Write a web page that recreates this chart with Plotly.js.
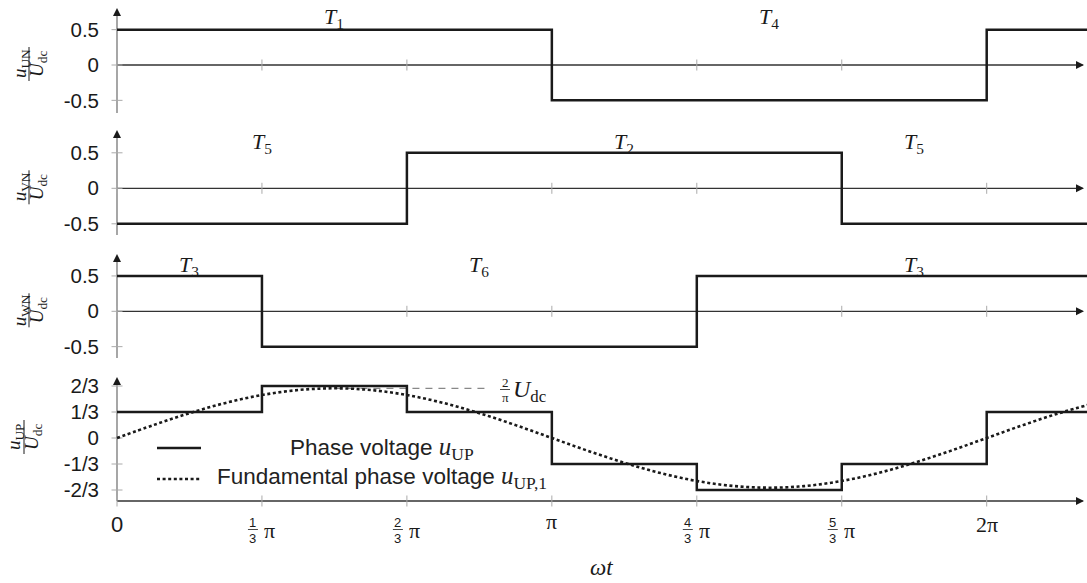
<!DOCTYPE html>
<html><head><meta charset="utf-8">
<script src="https://cdn.plot.ly/plotly-3.0.1.min.js"></script>
<style>html,body{margin:0;padding:0;background:#fff}</style>
</head><body><div id="chart" style="width:1087px;height:583px"></div>
<script>
// ---------------- DATA (x in units of π) ----------------
const xUN = [0, 1, 2, 2.3];
const yUN = [0.5, -0.5, 0.5, 0.5];
const xVN = [0, 2/3, 5/3, 2.3];
const yVN = [-0.5, 0.5, -0.5, -0.5];
const xWN = [0, 1/3, 4/3, 2.3];
const yWN = [0.5, -0.5, 0.5, 0.5];
const xUP = [0, 1/3, 2/3, 1, 4/3, 5/3, 2, 2.3];
const yUP = [1/3, 2/3, 1/3, -1/3, -2/3, -1/3, 1/3, 1/3];
const xFund = [0, 1/12, 2/12, 3/12, 4/12, 5/12, 6/12, 7/12, 8/12, 9/12, 10/12, 11/12, 1,
               13/12, 14/12, 15/12, 16/12, 17/12, 18/12, 19/12, 20/12, 21/12, 22/12, 23/12, 2,
               25/12, 26/12, 27/12];
const yFund = [0, 0.165, 0.318, 0.450, 0.551, 0.615, 0.637, 0.615, 0.551, 0.450, 0.318, 0.165, 0,
               -0.165, -0.318, -0.450, -0.551, -0.615, -0.637, -0.615, -0.551, -0.450, -0.318, -0.165, 0,
               0.165, 0.318, 0.450];
const peakFund = 0.637;
const peakLineX = [0.5, 0.85];

const xTickVals = [0, 1/3, 2/3, 1, 4/3, 5/3, 2];
const xTickNum  = [null, '1', '2', null, '4', '5', null];
const xTickDen  = [null, '3', '3', null, '3', '3', null];
const xTickMain = ['0', 'π', 'π', 'π', 'π', 'π', '2π'];

const yTickValsHalf = [-0.5, 0, 0.5];
const yTickTextHalf = ['-0.5', '0', '0.5'];
const yTickValsThird = [-2/3, -1/3, 0, 1/3, 2/3];
const yTickTextThird = ['-2/3', '-1/3', '0', '1/3', '2/3'];

const yTitleSub = ['UN', 'VN', 'WN', 'UP'];

const tPanel = [0, 0, 1, 1, 1, 2, 2, 2];
const tX     = [1/2, 3/2, 1/3, 7/6, 11/6, 1/6, 5/6, 11/6];
const tSub   = ['1', '4', '5', '2', '5', '3', '6', '3'];

const legendText = ['Phase voltage ', 'Fundamental phase voltage '];
const legendSub = ['UP', 'UP,1'];

// ---------------- GEOMETRY ----------------
const W = 1087, H = 583, L = 100;
const PX_PI = 434.85, X0 = 117;
const xr = [(L - X0) / PX_PI, (W - X0) / PX_PI];
const panels = [
  {zero: 65,    unit: 70.7, top: 3,   bot: 118, arrowTop: 8,   axisBot: 113, xAxisPx: 65,  numX: 21, barX: 29, denX: 38},
  {zero: 188.3, unit: 71,   top: 125, bot: 240, arrowTop: 130, axisBot: 235, xAxisPx: 188.3, numX: 21, barX: 29, denX: 38},
  {zero: 311.3, unit: 70.7, top: 249, bot: 363, arrowTop: 254, axisBot: 358, xAxisPx: 311.3, numX: 21, barX: 29, denX: 38},
  {zero: 438,   unit: 78,   top: 370, bot: 512, arrowTop: 377, axisBot: 501, xAxisPx: 501, numX: 15, barX: 24, denX: 33}
];
const val = (p, px) => (p.zero - px) / p.unit;
const py = px => 1 - px / H;
const pxX = px => (px - L) / (W - L);

const SANS = 'Liberation Sans, Arial, sans-serif';
const SERIF = 'Liberation Serif, Times New Roman, serif';
const INK = '#1a1a1a';

const layout = {
  width: W, height: H,
  margin: {l: L, r: 0, t: 0, b: 0},
  paper_bgcolor: '#fff', plot_bgcolor: 'rgba(0,0,0,0)',
  showlegend: false,
  shapes: [], annotations: []
};
const ann = o => layout.annotations.push(Object.assign({showarrow: false, xanchor: 'center', yanchor: 'middle'}, o));

panels.forEach((p, i) => {
  const s = i === 0 ? '' : String(i + 1);
  const xa = 'x' + s, ya = 'y' + s;
  layout['xaxis' + s] = {domain: [0, 1], range: xr, visible: false, anchor: ya, fixedrange: true};
  const third = i === 3;
  layout['yaxis' + s] = {
    domain: [py(p.bot), py(p.top)], range: [val(p, p.bot), val(p, p.top)], anchor: xa,
    showgrid: false, zeroline: false, showline: false, ticks: '', fixedrange: true,
    tickvals: third ? yTickValsThird : yTickValsHalf,
    ticktext: third ? yTickTextThird : yTickTextHalf,
    tickfont: {family: SANS, size: 20.5, color: INK},
    ticklabelstandoff: 0
  };
  const axY = val(p, p.xAxisPx);
  // y axis line + arrow
  layout.shapes.push({type: 'line', xref: xa, yref: ya, x0: 0, x1: 0, y0: val(p, p.axisBot), y1: val(p, p.arrowTop + 3),
    line: {color: '#777', width: 1.3}, layer: 'below'});
  layout.annotations.push({xref: xa, yref: ya, x: 0, y: val(p, p.arrowTop), ax: 0, ay: 9, text: '',
    showarrow: true, arrowhead: 2, arrowsize: 1.6, arrowwidth: 1, arrowcolor: INK});
  // x axis line + arrow
  layout.shapes.push({type: 'line', xref: xa, yref: ya, x0: 0, x1: xr[1] - 0.01, y0: axY, y1: axY,
    line: {color: '#333', width: 1.3}, layer: 'below'});
  layout.annotations.push({xref: xa, yref: ya, x: xr[1] - 3 / PX_PI, y: axY, ax: -9, ay: 0, text: '',
    showarrow: true, arrowhead: 2, arrowsize: 1.6, arrowwidth: 1, arrowcolor: INK});
  // x ticks
  xTickVals.forEach(v => {
    layout.shapes.push({type: 'line', xref: xa, yref: ya, x0: v, x1: v, ysizemode: 'pixel', yanchor: axY, y0: -5.5, y1: 5.5,
      line: {color: '#aaa', width: 1}, layer: 'below'});
  });
  // y ticks
  (third ? yTickValsThird : yTickValsHalf).forEach(v => {
    layout.shapes.push({type: 'line', xref: xa, yref: ya, y0: v, y1: v, xsizemode: 'pixel', xanchor: 0, x0: -5.5, x1: 5.5,
      line: {color: '#aaa', width: 1}, layer: 'below'});
  });
  // y title fraction
  ann({xref: 'paper', yref: 'paper', x: pxX(p.numX), y: py(p.zero - 1),
    text: '<i>u</i><sub>' + yTitleSub[i] + '</sub>', textangle: -90, font: {family: SERIF, size: 19, color: INK}});
  ann({xref: 'paper', yref: 'paper', x: pxX(p.denX), y: py(p.zero - 1),
    text: '<i>U</i><sub>dc</sub>', textangle: -90, font: {family: SERIF, size: 19, color: INK}});
  layout.shapes.push({type: 'line', xref: 'paper', yref: 'paper', x0: pxX(p.barX), x1: pxX(p.barX), y0: py(p.zero - 18), y1: py(p.zero + 16),
    line: {color: INK, width: 1}});
});

// T labels
tPanel.forEach((pi, k) => {
  const s = pi === 0 ? '' : String(pi + 1);
  const p = panels[pi];
  const cy = [18, 143, 266][pi];
  ann({xref: 'x' + s, yref: 'y' + s, x: tX[k], y: val(p, cy),
    text: '<i>T</i><sub>' + tSub[k] + '</sub>', font: {family: SERIF, size: 22, color: INK}});
});

// x tick labels (bottom)
xTickVals.forEach((v, k) => {
  if (xTickNum[k] === null) {
    ann({xref: 'x4', yref: 'paper', x: v, y: py(xTickMain[k] === 'π' ? 521 : 524),
      text: xTickMain[k], font: {family: xTickMain[k] === '0' ? SANS : SERIF, size: 22, color: INK}});
  } else {
    ann({xref: 'x4', yref: 'paper', x: v, xshift: -9, y: py(522),
      text: xTickNum[k], font: {family: SANS, size: 13, color: INK}});
    ann({xref: 'x4', yref: 'paper', x: v, xshift: -9, y: py(538),
      text: xTickDen[k], font: {family: SANS, size: 13, color: INK}});
    layout.shapes.push({type: 'line', xref: 'x4', yref: 'paper', xsizemode: 'pixel', xanchor: v, x0: -14, x1: -4,
      y0: py(529.5), y1: py(529.5), line: {color: INK, width: 0.8}});
    ann({xref: 'x4', yref: 'paper', x: v, xshift: 8, y: py(530),
      text: xTickMain[k], font: {family: SERIF, size: 22, color: INK}});
  }
});
// x-axis title
ann({xref: 'paper', yref: 'paper', x: pxX(601), y: py(567),
  text: '<i>ωt</i>', font: {family: SERIF, size: 23, color: INK}});

// peak reference line + label
layout.shapes.push({type: 'line', xref: 'x4', yref: 'y4', x0: peakLineX[0], x1: peakLineX[1], y0: peakFund, y1: peakFund,
  line: {color: '#888', width: 1.2, dash: '7px,6px'}, layer: 'below'});
ann({xref: 'paper', yref: 'paper', x: pxX(505), y: py(382), text: '2', font: {family: SERIF, size: 13, color: INK}});
ann({xref: 'paper', yref: 'paper', x: pxX(505), y: py(397), text: 'π', font: {family: SERIF, size: 13, color: INK}});
layout.shapes.push({type: 'line', xref: 'paper', yref: 'paper', x0: pxX(500), x1: pxX(510), y0: py(389.5), y1: py(389.5),
  line: {color: INK, width: 0.8}});
ann({xref: 'paper', yref: 'paper', x: pxX(511), y: py(391), xanchor: 'left',
  text: '<i>U</i><sub>dc</sub>', font: {family: SERIF, size: 24, color: INK}});

// legend (manual)
layout.shapes.push({type: 'line', xref: 'paper', yref: 'paper', x0: pxX(157), x1: pxX(201), y0: py(448), y1: py(448),
  line: {color: INK, width: 2.5}});
layout.shapes.push({type: 'line', xref: 'paper', yref: 'paper', x0: pxX(157), x1: pxX(201), y0: py(479), y1: py(479),
  line: {color: INK, width: 2.5, dash: '3px,2.6px'}});
[448, 477].forEach((yy, k) => {
  ann({xref: 'paper', yref: 'paper', x: pxX(382), y: py(yy),
    text: legendText[k] + '<span style="font-family:Liberation Serif;font-size:25px"><i>u</i><sub>' + legendSub[k] + '</sub></span>',
    font: {family: SANS, size: 22.5, color: '#222'}});
});

const stepLine = {shape: 'hv', color: INK, width: 2.5};
const data = [
  {x: xUN, y: yUN, xaxis: 'x', yaxis: 'y', mode: 'lines', line: stepLine, hoverinfo: 'skip'},
  {x: xVN, y: yVN, xaxis: 'x2', yaxis: 'y2', mode: 'lines', line: stepLine, hoverinfo: 'skip'},
  {x: xWN, y: yWN, xaxis: 'x3', yaxis: 'y3', mode: 'lines', line: stepLine, hoverinfo: 'skip'},
  {x: xUP, y: yUP, xaxis: 'x4', yaxis: 'y4', mode: 'lines', line: stepLine, hoverinfo: 'skip'},
  {x: xFund, y: yFund, xaxis: 'x4', yaxis: 'y4', mode: 'lines', hoverinfo: 'skip',
    line: {shape: 'spline', smoothing: 1, color: INK, width: 2.6, dash: '3px,2.6px'}}
];

Plotly.newPlot('chart', data, layout, {displayModeBar: false, staticPlot: true});
</script></body></html>
